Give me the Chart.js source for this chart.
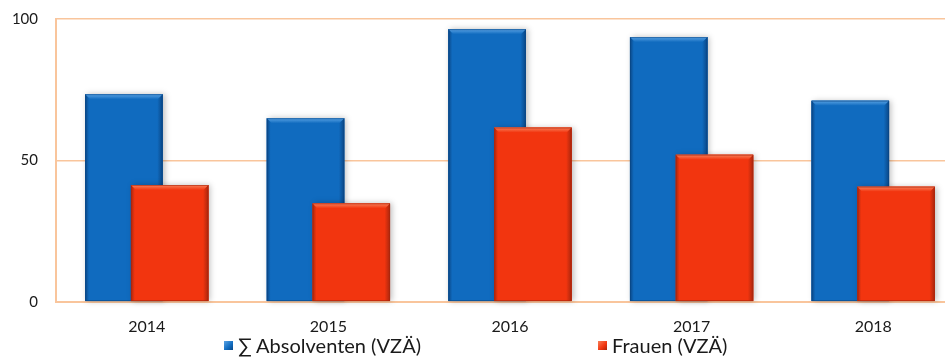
<!DOCTYPE html>
<html>
<head>
<meta charset="utf-8">
<script src="https://cdn.jsdelivr.net/npm/chart.js@4"></script>
<style>
	html, body { margin: 0; padding: 0; background: #fff; overflow: hidden; }
	#wrap { position: relative; width: 964px; height: 359px; }
	#legend { position: absolute; left: 0; top: 333px; font: 20px Lato, sans-serif; color: #1a1a1a; }
	.item { position: absolute; top: 0; white-space: nowrap; display: flex; align-items: center; height: 24px; }
	.box { width: 9px; height: 9px; margin-right: 5px; }
</style>
</head>
<body>
<div id="wrap">
	<canvas id="myChart" width="964" height="359"></canvas>
	<div id="legend"></div>
</div>
<script>
const years = ["2014", "2015", "2016", "2017", "2018"];
const absolventen = [73.4, 64.9, 96.4, 93.6, 71.1];
const frauen = [41.3, 34.8, 61.6, 52.0, 40.7];
const yTicks = [0, 50, 100];

const seriesLabels = ["\u2211 Absolventen (VZ\u00c4)", "Frauen (VZ\u00c4)"];
const blue = { base: "#106bbf", dark: "#0a4685", light: "#5aa3e4" };
const red = { base: "#f2350f", dark: "#a8260d", light: "#f8805a" };
const gridColor = "#f9c59c";

// paints each bar with a bevelled, shaded look; blue first so red lands on top
function drawBevelBar(ctx, left, top, w, h, c) {
	const b = 5;
	ctx.save();
	ctx.shadowColor = "rgba(0,0,0,0.25)";
	ctx.shadowBlur = 6;
	ctx.shadowOffsetX = 2;
	ctx.fillStyle = c.base;
	ctx.fillRect(left, top, w, h);
	ctx.restore();

	ctx.save();
	let g = ctx.createLinearGradient(left, 0, left + w, 0);
	g.addColorStop(0, c.dark);
	g.addColorStop(0.05, c.base);
	g.addColorStop(0.93, c.base);
	g.addColorStop(1, c.dark);
	ctx.fillStyle = g;
	ctx.fillRect(left, top, w, h);

	ctx.beginPath();
	ctx.moveTo(left, top);
	ctx.lineTo(left + w, top);
	ctx.lineTo(left + w - b, top + b);
	ctx.lineTo(left + b, top + b);
	ctx.closePath();
	g = ctx.createLinearGradient(0, top, 0, top + b);
	g.addColorStop(0, c.light);
	g.addColorStop(1, c.base);
	ctx.fillStyle = g;
	ctx.fill();

	ctx.strokeStyle = c.dark;
	ctx.globalAlpha = 0.6;
	ctx.lineWidth = 1;
	ctx.strokeRect(left + 0.5, top + 0.5, w - 1, h - 1);
	ctx.restore();
}

const barShading = {
	id: "barShading",
	afterDatasetsDraw(chart) {
		const ctx = chart.ctx;
		chart.data.datasets.forEach((ds, i) => {
			const meta = chart.getDatasetMeta(i);
			meta.data.forEach((bar) => {
				const p = bar.getProps(["x", "y", "base", "width"], true);
				drawBevelBar(ctx, p.x - p.width / 2, p.y, p.width, p.base - p.y, ds.shade);
			});
		});
	},
};

const ctx = document.getElementById("myChart").getContext("2d");
const myChart = new Chart(ctx, {
	type: "bar",
	data: {
		labels: years,
		datasets: [
			{ label: seriesLabels[0], data: absolventen, backgroundColor: blue.base, shade: blue },
			{ label: seriesLabels[1], data: frauen, backgroundColor: red.base, shade: red },
		],
	},
	options: {
		responsive: false,
		animation: false,
		devicePixelRatio: 1,
		categoryPercentage: 0.504,
		barPercentage: 1.694,
		layout: { padding: { top: 19, right: 0, bottom: 8, left: 0 } },
		plugins: { legend: { display: false }, tooltip: { enabled: false } },
		scales: {
			x: {
				grid: { display: false, drawTicks: false },
				border: { display: true, color: gridColor, width: 2 },
				ticks: { padding: 15, color: "#1a1a1a", font: { family: "Lato", size: 16 } },
			},
			y: {
				min: 0,
				max: 100,
				afterFit(scale) {
					scale.width = 56;
					scale.paddingTop = 0;
					scale.paddingBottom = 0;
				},
				afterBuildTicks(scale) { scale.ticks = yTicks.map((v) => ({ value: v })); },
				grid: { color: gridColor, lineWidth: 1.5, drawTicks: false },
				border: { display: true, color: gridColor, width: 2 },
				ticks: { padding: 18, color: "#1a1a1a", font: { family: "Lato", size: 15 } },
			},
		},
	},
	plugins: [barShading],
});

// legend below the axis, built from the datasets
const legendPos = [224, 598];
const legend = document.getElementById("legend");
myChart.data.datasets.forEach((ds, i) => {
	const item = document.createElement("div");
	item.className = "item";
	item.style.left = legendPos[i] + "px";
	const box = document.createElement("span");
	box.className = "box";
	box.style.background = `linear-gradient(135deg, ${ds.shade.light}, ${ds.shade.base} 60%, ${ds.shade.dark})`;
	const text = document.createElement("span");
	text.textContent = ds.label;
	item.appendChild(box);
	item.appendChild(text);
	legend.appendChild(item);
});
</script>
</body>
</html>
